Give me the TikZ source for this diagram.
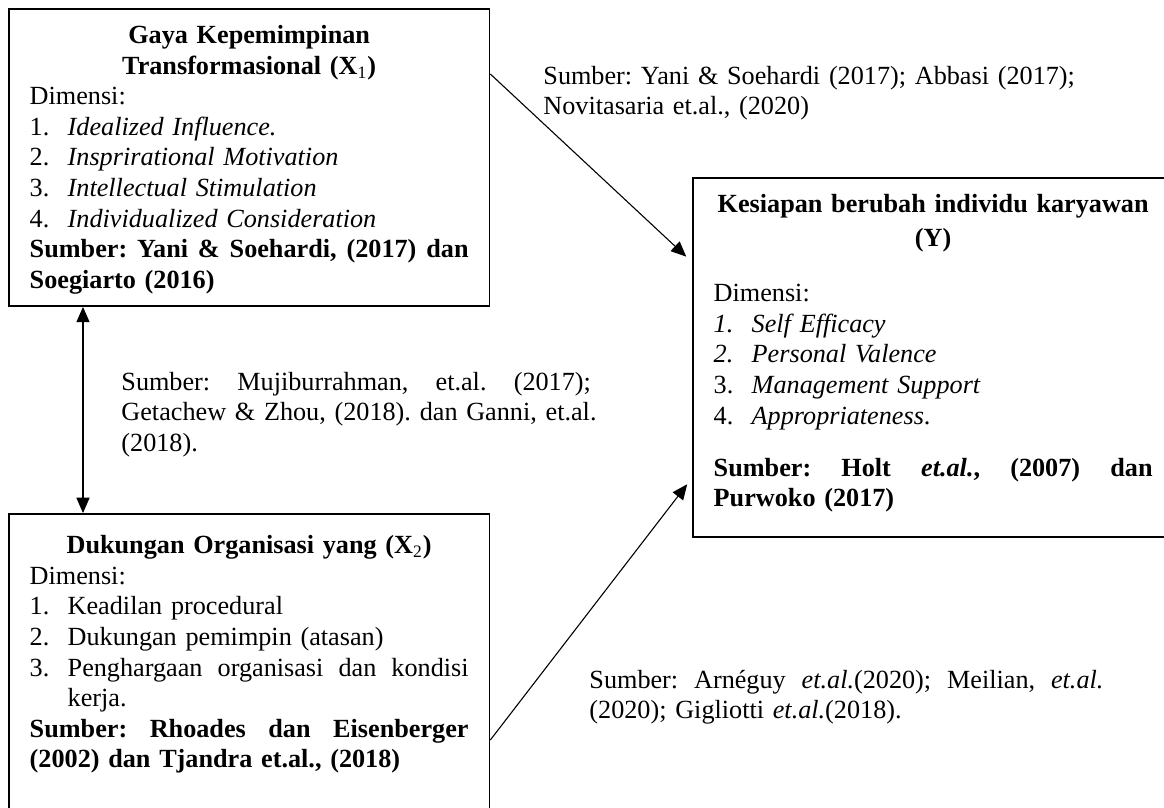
\documentclass[tikz,border=0pt]{standalone}
\usepackage{fontspec}
\setmainfont{Liberation Serif}
\usetikzlibrary{arrows.meta,calc}

\newcommand{\dimitem}[2]{\makebox[17.4pt][l]{#1}#2}
\newcommand{\fullline}[2]{\leavevmode\hbox to #1{#2}}
\newcommand{\gap}{\hfill\ \hfill}

\begin{document}
\begin{tikzpicture}[x=0.458pt, y=-0.458pt,
  font=\fontsize{12pt}{14pt}\selectfont\frenchspacing,
  box/.style={draw, line width=0.7pt, anchor=north west, text width=201pt,
    inner xsep=9.6pt, inner ysep=4pt, align=left},
  srctext/.style={anchor=base west, inner sep=0pt, align=left},
  link/.style={-{Triangle[length=7pt,width=6pt]}, line width=0.5pt, shorten >=3.6pt},
  duallink/.style={{Triangle[length=7pt,width=6pt]}-{Triangle[length=7pt,width=6pt]}, line width=0.5pt}]
  \useasboundingbox (0,0) rectangle (1164,807);
  \clip (0,0) rectangle (1164,807);

  % Variabel X1
  \node[box] (x1) at (8,8) {%
    {\centering\bfseries\rule{0pt}{12pt}Gaya Kepemimpinan\\
      Transformasional (X\textsubscript{\normalfont 1})\par}
    Dimensi:\\
    \dimitem{1.}{\textit{Idealized Influence.}}\\
    \dimitem{2.}{\textit{Insprirational Motivation}}\\
    \dimitem{3.}{\textit{Intellectual Stimulation}}\\
    \dimitem{4.}{\textit{Individualized Consideration}}\\
    \textbf{\fullline{201pt}{Sumber:\gap Yani\gap \&\gap Soehardi,\gap (2017)\gap dan}}\\
    \textbf{Soegiarto (2016)}\strut};

  % Variabel X2
  \node[box] (x2) at (8,513) {%
    {\centering\bfseries\rule{0pt}{14.3pt}Dukungan Organisasi yang (X\textsubscript{\normalfont 2})\par}
    Dimensi:\\
    \dimitem{1.}{Keadilan procedural}\\
    \dimitem{2.}{Dukungan pemimpin (atasan)}\\
    \dimitem{3.}{\fullline{183.6pt}{Penghargaan\gap organisasi\gap dan\gap kondisi}}\\
    \hspace*{17.4pt}kerja.\\
    \textbf{\fullline{201pt}{Sumber:\gap Rhoades\gap dan\gap Eisenberger}}\\
    \textbf{(2002) dan Tjandra et.al., (2018)}\rule[-40pt]{0pt}{0pt}};

  % Variabel Y
  \node[box] (yk) at (692,177) {%
    {\centering\bfseries\rule{0pt}{12pt}Kesiapan berubah individu karyawan\\[1.6pt]
      (Y)\par}
    \vspace{11.2pt}
    Dimensi:\\
    \dimitem{\textit{1.}}{\textit{Self Efficacy}}\\
    \dimitem{\textit{2.}}{\textit{Personal Valence}}\\
    \dimitem{3.}{\textit{Management Support}}\\
    \dimitem{4.}{\textit{Appropriateness}.}\\[9.8pt]
    \textbf{\fullline{201pt}{Sumber:\gap Holt\gap \textit{et.al.},\gap (2007)\gap dan}}\\
    \textbf{Purwoko (2017)}\rule[-10pt]{0pt}{0pt}};

  % Sumber pada panah
  \node[srctext, text width=260pt] (srcA) at (543,84) {%
    Sumber: Yani \& Soehardi (2017); Abbasi (2017);\\
    Novitasaria et.al., (2020)};
  \node[srctext, text width=215pt] (srcB) at (121,390) {%
    \fullline{215pt}{Sumber:\gap Mujiburrahman,\gap et.al.\gap (2017);}\\
    \fullline{215pt}{Getachew\gap \&\gap Zhou,\gap (2018).\gap dan\gap Ganni,\gap et.al.}\\
    (2018).};
  \node[srctext, text width=235.4pt] (srcC) at (589,688) {%
    \fullline{235.4pt}{Sumber:\gap Arnéguy\gap \textit{et.al.}(2020);\gap Meilian,\gap \textit{et.al.}}\\
    (2020); Gigliotti \textit{et.al.}(2018).};

  % Panah
  \draw[link] ($(x1.north east)+(0,66)$) -- ($(yk.north west)+(0,85)$);
  \draw[link] ($(x2.north east)+(0,227)$) -- ($(yk.north west)+(0,301)$);
  \draw[duallink] ($(x1.south west)+(75,0)$) -- ($(x2.north west)+(75,0)$);
\end{tikzpicture}
\end{document}
